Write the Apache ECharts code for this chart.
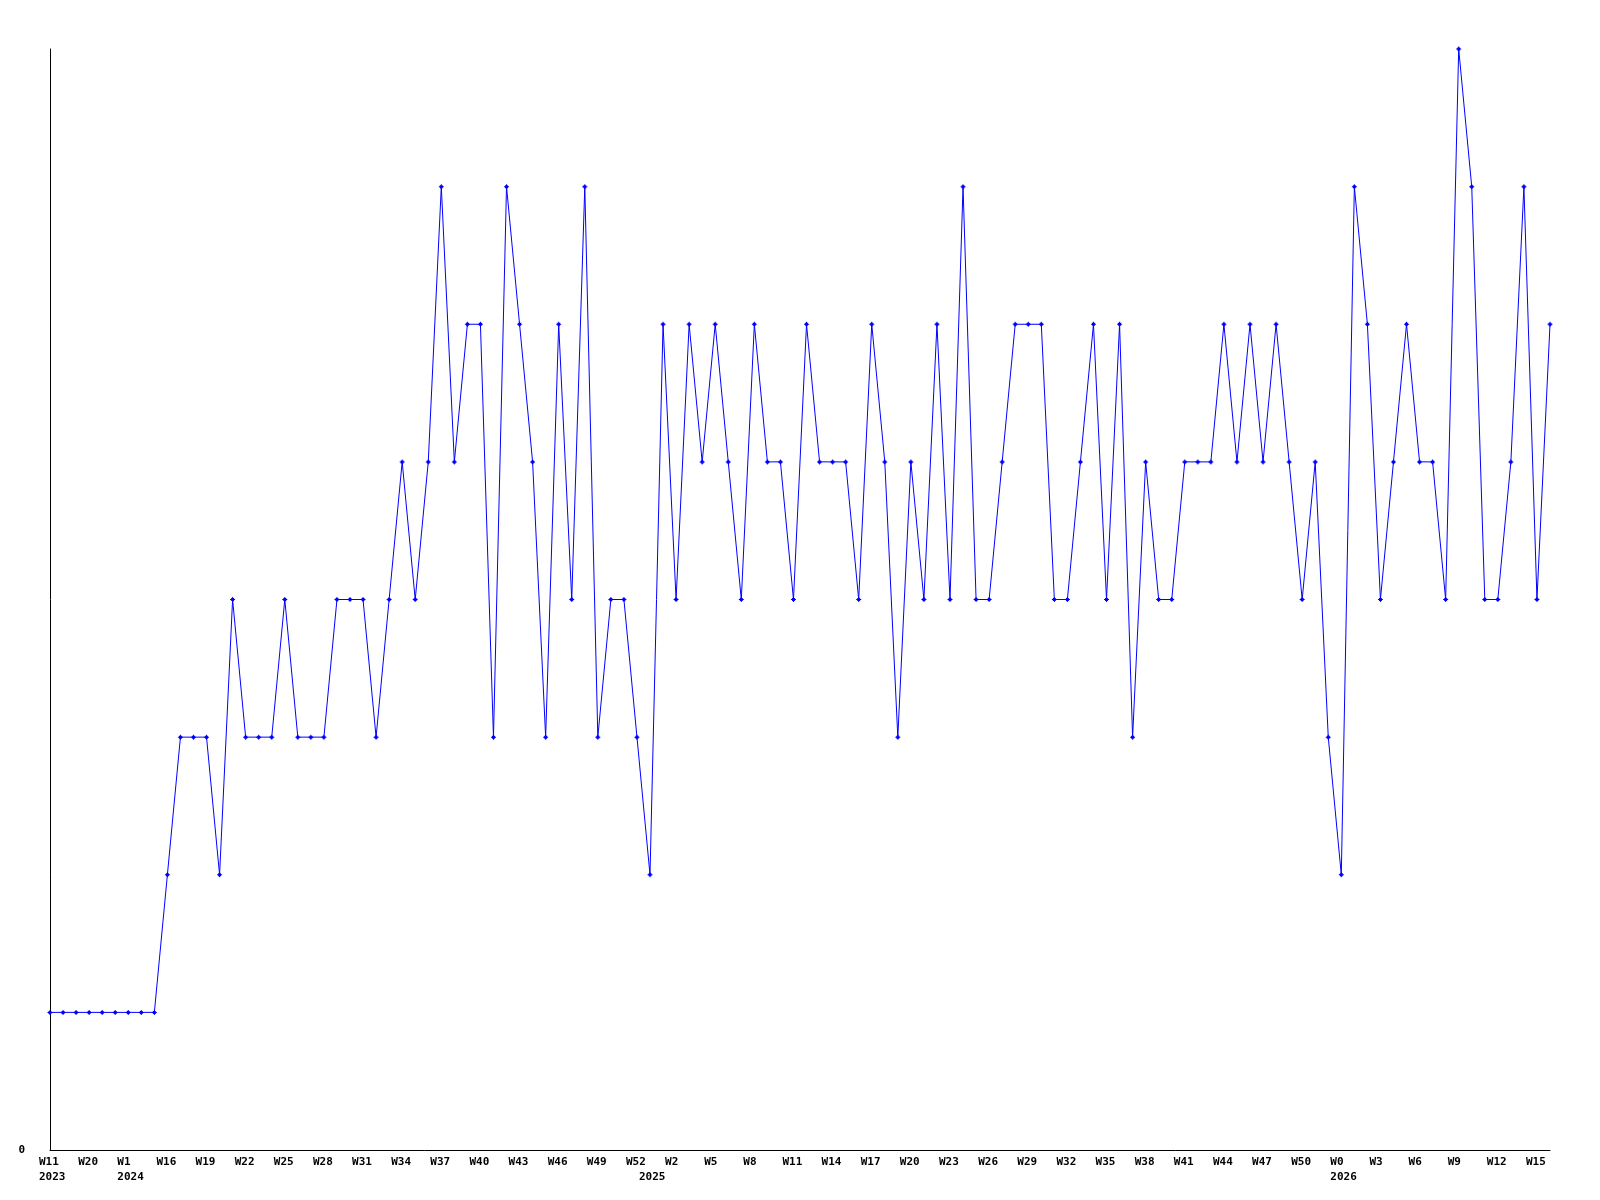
<!DOCTYPE html>
<html>
<head>
<meta charset="utf-8">
<script src="https://cdn.jsdelivr.net/npm/echarts@6/dist/echarts.min.js"></script>
<style>html,body{margin:0;padding:0;background:#fff}#c{width:1600px;height:1200px}</style>
</head>
<body>
<div id="c"></div>
<script>
// Week categories (year, week)
const years = [2023,2023,2023,2023,2023,2023,2024,2024,2024,2024];
const weeks = [11,14,17,20,33,46,1,6,11,16];
for (let w = 17; w <= 52; w++) { years.push(2024); weeks.push(w); }
for (let w = 0; w <= 52; w++) { years.push(2025); weeks.push(w); }
for (let w = 0; w <= 16; w++) { years.push(2026); weeks.push(w); }

const values = [
  1,1,1,1,1,1,1,1,1,2,
  3,3,3,2,4,3,3,3,4,3,
  3,3,4,4,4,3,4,5,4,5,
  7,5,6,6,3,7,6,5,3,6,
  4,7,3,4,4,3,2,6,4,6,
  5,6,5,4,6,5,5,4,6,5,
  5,5,4,6,5,3,5,4,6,4,
  7,4,4,5,6,6,6,4,4,5,
  6,4,6,3,5,4,4,5,5,5,
  6,5,6,5,6,5,4,5,3,2,
  7,6,4,5,6,5,5,4,8,7,
  4,4,5,7,4,6
];

const categories = years.map((y, i) => y + '-W' + weeks[i]);
const yTickLabels = ['0'];

// tick labels: week on every 3rd category; year under the first category of each year
const tickLabels = categories.map((c, i) => {
  const wk = (i % 3 === 0) ? 'W' + weeks[i] : '';
  const newYear = (i === 0 || years[i] !== years[i - 1]);
  if (newYear) return wk + '\n' + years[i];
  return wk;
});

const chart = echarts.init(document.getElementById('c'));
const font = { fontFamily: 'DejaVu Sans Mono', fontWeight: 'bold', fontSize: 11, color: '#000' };
chart.setOption({
  animation: false,
  backgroundColor: '#fff',
  grid: { left: 50, right: 50, top: 49, bottom: 50, containLabel: false },
  xAxis: {
    type: 'category',
    data: categories,
    boundaryGap: false,
    axisLine: { lineStyle: { color: '#000', width: 1 } },
    axisTick: { show: false },
    splitLine: { show: false },
    axisLabel: Object.assign({
      interval: 0,
      margin: 5,
      align: 'left',
      padding: [0, 0, 0, -11],
      lineHeight: 15,
      verticalAlign: 'top',
      formatter: (v, i) => tickLabels[i]
    }, font)
  },
  yAxis: {
    type: 'value',
    min: 0, max: 8, interval: 8,
    axisLine: { show: true, lineStyle: { color: '#000', width: 1 } },
    axisTick: { show: false },
    splitLine: { show: false },
    axisLabel: Object.assign({
      margin: 25,
      formatter: v => (v === 0 ? yTickLabels[0] : '')
    }, font)
  },
  series: [{
    type: 'line',
    data: values,
    showAllSymbol: true,
    symbol: 'path://M2,0h1v1h1v1h1v1h-1v1h-1v1h-1v-1h-1v-1h-1v-1h1v-1h1z',
    symbolSize: 5,
    itemStyle: { color: '#0000ff', borderWidth: 0 },
    lineStyle: { color: '#0000ff', width: 1 },
    emphasis: { disabled: true }
  }]
});
</script>
</body>
</html>
